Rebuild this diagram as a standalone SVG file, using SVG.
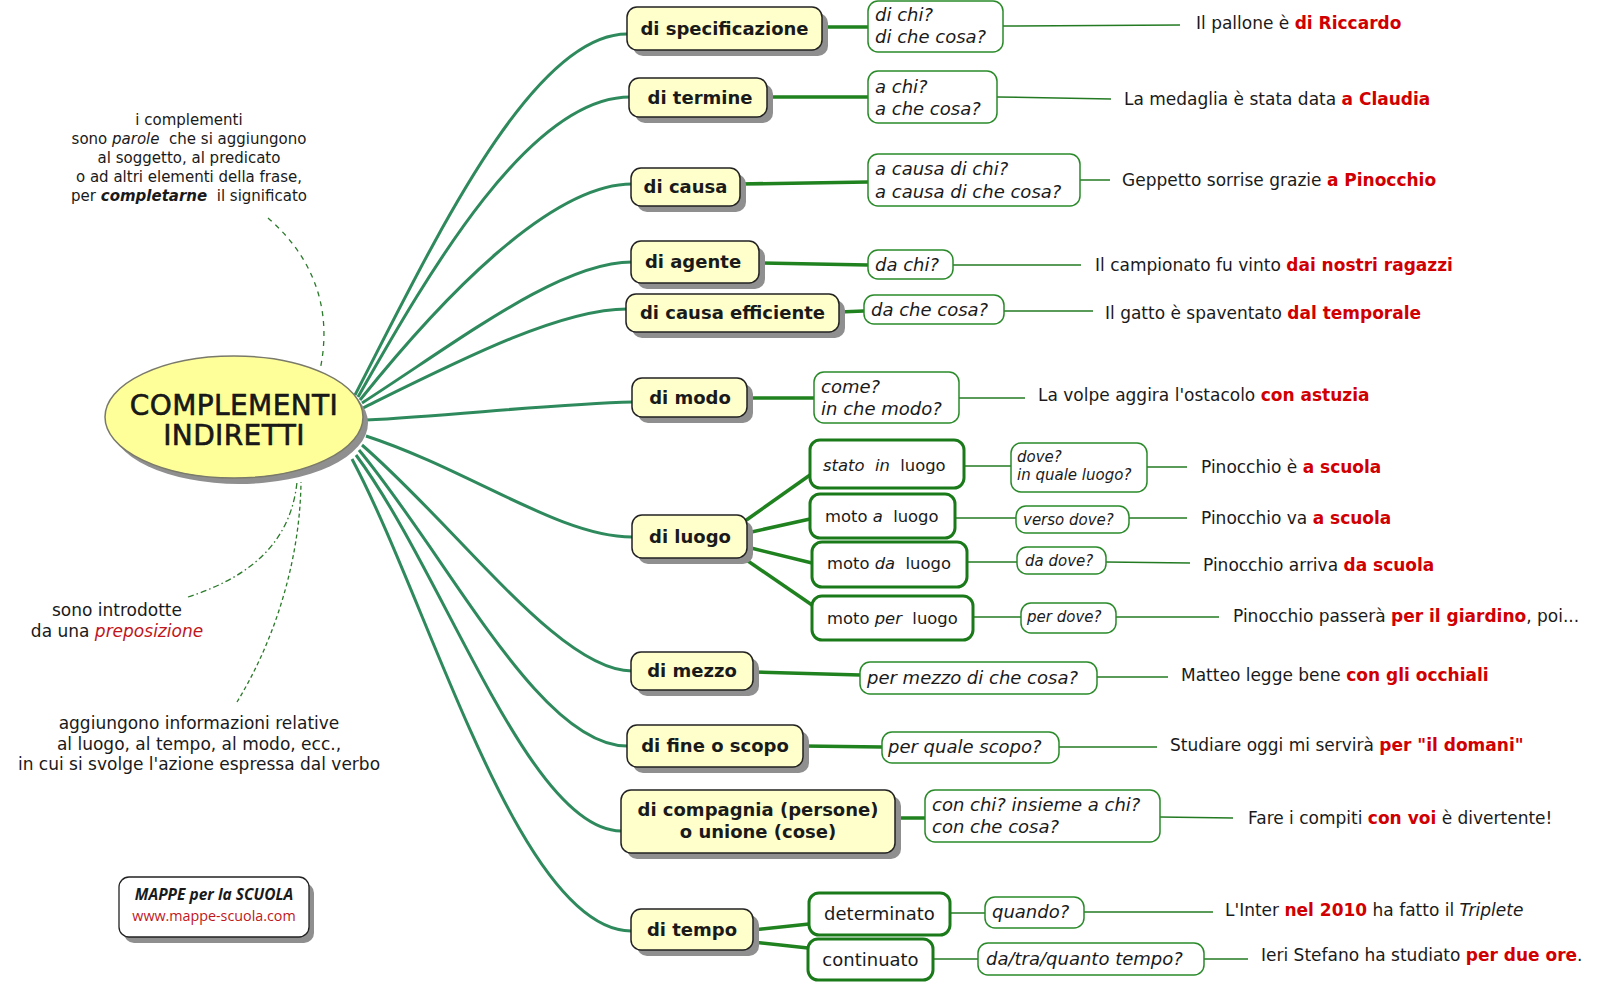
<svg xmlns="http://www.w3.org/2000/svg" width="1600" height="984" viewBox="0 0 1600 984">
<style>
text{font-family:"DejaVu Sans",Verdana,sans-serif;fill:#1a1a1a}
.main{fill:none;stroke:#2e8a5c;stroke-width:3}
.br{fill:none;stroke:#1f821f;stroke-width:3.5}
.thin{fill:none;stroke:#237a23;stroke-width:1.5}
.dash{fill:none;stroke:#2a7a2a;stroke-width:1.3}
.sh{fill:#8f8f8f}
.nd{fill:#ffffcc;stroke:#222;stroke-width:1.5}
.q{fill:#fff;stroke:#2a8a2a;stroke-width:1.5}
.sub{fill:#fff;stroke:#1a7a1a;stroke-width:3}
.nt{font-size:18px;font-weight:bold;text-anchor:middle}
.qt{font-size:18px;font-style:italic}
.qs{font-size:15px;font-style:italic}
.st{font-size:16.4px;white-space:pre}
.ex{font-size:17px;white-space:pre}
.r{fill:#d00000;font-weight:bold}
.i{font-style:italic}
.an{font-size:15px;text-anchor:middle;white-space:pre}
.an2{font-size:17px;text-anchor:middle;white-space:pre}
</style>
<g id="connectors">
<path class="main" d="M355,395 C430,250 530,34 627,34"/>
<path class="main" d="M358,397 C430,270 530,97 630,97"/>
<path class="main" d="M360,400 C440,300 550,184 632,184"/>
<path class="main" d="M362,403 C460,340 560,262 632,262"/>
<path class="main" d="M363,408 C460,360 560,309 627,309"/>
<path class="main" d="M366,420 C450,416 550,404 633,402"/>
<path class="main" d="M366,436 C470,470 560,537 632,537"/>
<path class="main" d="M362,445 C460,530 560,671 632,671"/>
<path class="main" d="M359,450 C450,560 540,746 627,746"/>
<path class="main" d="M356,455 C445,575 530,831 621,831"/>
<path class="main" d="M352,459 C430,605 520,931 631,931"/>
<path class="dash" stroke-dasharray="5,5" d="M268,218 C305,250 335,300 320,370"/>
<path class="dash" stroke-dasharray="6,3,1.5,3" d="M188,597 C240,580 290,550 297,482"/>
<path class="dash" stroke-dasharray="4,3" d="M237,702 C275,640 300,560 301,482"/>
<line class="br" x1="822" y1="27" x2="868" y2="27"/>
<line class="br" x1="767" y1="97" x2="868" y2="97"/>
<line class="br" x1="740" y1="184" x2="868" y2="182"/>
<line class="br" x1="759" y1="263" x2="868" y2="265"/>
<line class="br" x1="839" y1="312" x2="864" y2="311"/>
<line class="br" x1="747" y1="398" x2="814" y2="398"/>
<line class="br" x1="753" y1="672" x2="860" y2="675"/>
<line class="br" x1="803" y1="746" x2="882" y2="747"/>
<line class="br" x1="895" y1="818" x2="925" y2="818"/>
<line class="br" x1="745" y1="521" x2="810" y2="475"/>
<line class="br" x1="747" y1="533" x2="810" y2="519"/>
<line class="br" x1="747" y1="547" x2="812" y2="563"/>
<line class="br" x1="745" y1="559" x2="812" y2="605"/>
<line class="br" x1="753" y1="930" x2="809" y2="924"/>
<line class="br" x1="753" y1="942" x2="808" y2="948"/>
<line class="thin" x1="1003" y1="26" x2="1180" y2="25"/>
<line class="thin" x1="997" y1="97" x2="1111" y2="99"/>
<line class="thin" x1="1080" y1="180" x2="1110" y2="180"/>
<line class="thin" x1="953" y1="265" x2="1081" y2="265"/>
<line class="thin" x1="1004" y1="311" x2="1093" y2="311"/>
<line class="thin" x1="959" y1="398" x2="1025" y2="398"/>
<line class="thin" x1="964" y1="466" x2="1011" y2="466"/>
<line class="thin" x1="1147" y1="467" x2="1187" y2="467"/>
<line class="thin" x1="955" y1="518" x2="1016" y2="518"/>
<line class="thin" x1="1129" y1="518" x2="1187" y2="518"/>
<line class="thin" x1="967" y1="562" x2="1017" y2="562"/>
<line class="thin" x1="1106" y1="562" x2="1190" y2="563"/>
<line class="thin" x1="973" y1="617" x2="1021" y2="617"/>
<line class="thin" x1="1116" y1="617" x2="1219" y2="617"/>
<line class="thin" x1="1097" y1="677" x2="1168" y2="677"/>
<line class="thin" x1="1059" y1="747" x2="1157" y2="747"/>
<line class="thin" x1="1160" y1="817" x2="1233" y2="818"/>
<line class="thin" x1="950" y1="913" x2="985" y2="913"/>
<line class="thin" x1="1084" y1="912" x2="1213" y2="912"/>
<line class="thin" x1="933" y1="959" x2="978" y2="959"/>
<line class="thin" x1="1204" y1="959" x2="1248" y2="959"/>
</g>
<g id="center">
<ellipse cx="239" cy="423" rx="129" ry="61" class="sh"/>
<ellipse cx="234" cy="417" rx="129" ry="61" fill="#ffff99" stroke="#7a7a6a" stroke-width="1.5"/>
<text x="234" y="415" font-size="28" text-anchor="middle" stroke="#111" stroke-width="0.6" letter-spacing="0.4">COMPLEMENTI</text>
<text x="234" y="445" font-size="28" text-anchor="middle" stroke="#111" stroke-width="0.6" letter-spacing="0.4">INDIRETTI</text>
</g>
<g id="note-def">
<text class="an" x="189" y="125">i complementi</text>
<text class="an" x="189" y="144">sono <tspan class="i">parole</tspan>  che si aggiungono</text>
<text class="an" x="189" y="163">al soggetto, al predicato</text>
<text class="an" x="189" y="182">o ad altri elementi della frase,</text>
<text class="an" x="189" y="201">per <tspan font-weight="bold" font-style="italic">completarne</tspan>  il significato</text>
</g>
<g id="note-prep">
<text class="an2" x="117" y="616">sono introdotte</text>
<text class="an2" x="117" y="637">da una <tspan class="i" fill="#c0161b">preposizione</tspan></text>
</g>
<g id="note-info">
<text class="an2" x="199" y="729">aggiungono informazioni relative</text>
<text class="an2" x="199" y="749.5">al luogo, al tempo, al modo, ecc.,</text>
<text class="an2" x="199" y="770">in cui si svolge l'azione espressa dal verbo</text>
</g>
<g id="logo">
<rect x="124" y="883" width="190" height="60" rx="10" class="sh"/>
<rect x="119" y="877" width="190" height="60" rx="10" fill="#fff" stroke="#222" stroke-width="1.3"/>
<text x="214" y="900" font-size="15.5" font-weight="bold" font-style="italic" text-anchor="middle" style="font-family:'Open Sans',sans-serif">MAPPE per la SCUOLA</text>
<text x="214" y="921" font-size="14.3" text-anchor="middle" style="font-family:'Open Sans',sans-serif;fill:#c0161b">www.mappe-scuola.com</text>
</g>
<g id="n-specificazione">
<rect x="633" y="13" width="195" height="43" rx="10" class="sh"/>
<rect x="627" y="7" width="195" height="43" rx="10" class="nd"/>
<text class="nt" x="724.5" y="35">di specificazione</text>
<rect x="868" y="1" width="135" height="51" rx="10" class="q"/>
<text class="qt" x="875" y="21">di chi?</text>
<text class="qt" x="875" y="43">di che cosa?</text>
<text class="ex" x="1196" y="29">Il pallone è <tspan class="r">di Riccardo</tspan></text>
</g>
<g id="n-termine">
<rect x="635" y="84" width="138" height="39" rx="10" class="sh"/>
<rect x="629" y="78" width="138" height="39" rx="10" class="nd"/>
<text class="nt" x="700" y="104">di termine</text>
<rect x="868" y="71" width="129" height="52" rx="10" class="q"/>
<text class="qt" x="875" y="93">a chi?</text>
<text class="qt" x="875" y="115">a che cosa?</text>
<text class="ex" x="1124" y="105">La medaglia è stata data <tspan class="r">a Claudia</tspan></text>
</g>
<g id="n-causa">
<rect x="637" y="174" width="109" height="38" rx="10" class="sh"/>
<rect x="631" y="168" width="109" height="38" rx="10" class="nd"/>
<text class="nt" x="685.5" y="193">di causa</text>
<rect x="868" y="154" width="212" height="52" rx="10" class="q"/>
<text class="qt" x="875" y="175">a causa di chi?</text>
<text class="qt" x="875" y="198">a causa di che cosa?</text>
<text class="ex" x="1122" y="186">Geppetto sorrise grazie <tspan class="r">a Pinocchio</tspan></text>
</g>
<g id="n-agente">
<rect x="637" y="247" width="128" height="42" rx="10" class="sh"/>
<rect x="631" y="241" width="128" height="42" rx="10" class="nd"/>
<text class="nt" x="693" y="268">di agente</text>
<rect x="868" y="250" width="85" height="29" rx="10" class="q"/>
<text class="qt" x="875" y="271">da chi?</text>
<text class="ex" x="1095" y="271">Il campionato fu vinto <tspan class="r">dai nostri ragazzi</tspan></text>
</g>
<g id="n-causa-efficiente">
<rect x="632" y="300" width="213" height="38" rx="10" class="sh"/>
<rect x="626" y="294" width="213" height="38" rx="10" class="nd"/>
<text class="nt" x="732.5" y="319">di causa efficiente</text>
<rect x="864" y="295" width="140" height="29" rx="10" class="q"/>
<text class="qt" x="871" y="316">da che cosa?</text>
<text class="ex" x="1105" y="319">Il gatto è spaventato <tspan class="r">dal temporale</tspan></text>
</g>
<g id="n-modo">
<rect x="638" y="384" width="115" height="39" rx="10" class="sh"/>
<rect x="632" y="378" width="115" height="39" rx="10" class="nd"/>
<text class="nt" x="690" y="404">di modo</text>
<rect x="814" y="372" width="145" height="51" rx="10" class="q"/>
<text class="qt" x="821" y="393">come?</text>
<text class="qt" x="821" y="415">in che modo?</text>
<text class="ex" x="1038" y="401">La volpe aggira l'ostacolo <tspan class="r">con astuzia</tspan></text>
</g>
<g id="n-luogo">
<rect x="638" y="521" width="115" height="43" rx="10" class="sh"/>
<rect x="632" y="515" width="115" height="43" rx="10" class="nd"/>
<text class="nt" x="690" y="543">di luogo</text>
</g>
<g id="n-stato-in-luogo">
<rect x="810" y="440" width="154" height="48" rx="10" class="sub"/>
<text class="st" x="823" y="471"><tspan class="i">stato  in</tspan>  luogo</text>
<rect x="1011" y="443" width="136" height="49" rx="10" class="q"/>
<text class="qs" x="1017" y="462">dove?</text>
<text class="qs" x="1017" y="480">in quale luogo?</text>
<text class="ex" x="1201" y="473">Pinocchio è <tspan class="r">a scuola</tspan></text>
</g>
<g id="n-moto-a-luogo">
<rect x="810" y="494" width="145" height="44" rx="10" class="sub"/>
<text class="st" x="825" y="522">moto <tspan class="i">a</tspan>  luogo</text>
<rect x="1016" y="506" width="113" height="27" rx="10" class="q"/>
<text class="qs" x="1023" y="525">verso dove?</text>
<text class="ex" x="1201" y="524">Pinocchio va <tspan class="r">a scuola</tspan></text>
</g>
<g id="n-moto-da-luogo">
<rect x="812" y="542" width="155" height="45" rx="10" class="sub"/>
<text class="st" x="827" y="569">moto <tspan class="i">da</tspan>  luogo</text>
<rect x="1017" y="547" width="89" height="27" rx="10" class="q"/>
<text class="qs" x="1025" y="566">da dove?</text>
<text class="ex" x="1203" y="571">Pinocchio arriva <tspan class="r">da scuola</tspan></text>
</g>
<g id="n-moto-per-luogo">
<rect x="812" y="596" width="161" height="44" rx="10" class="sub"/>
<text class="st" x="827" y="624">moto <tspan class="i">per</tspan>  luogo</text>
<rect x="1021" y="603" width="95" height="30" rx="10" class="q"/>
<text class="qs" x="1027" y="622">per dove?</text>
<text class="ex" x="1233" y="622">Pinocchio passerà <tspan class="r">per il giardino</tspan>, poi...</text>
</g>
<g id="n-mezzo">
<rect x="637" y="658" width="122" height="38" rx="10" class="sh"/>
<rect x="631" y="652" width="122" height="38" rx="10" class="nd"/>
<text class="nt" x="692" y="677">di mezzo</text>
<rect x="860" y="662" width="237" height="32" rx="10" class="q"/>
<text class="qt" x="867" y="684">per mezzo di che cosa?</text>
<text class="ex" x="1181" y="681">Matteo legge bene <tspan class="r">con gli occhiali</tspan></text>
</g>
<g id="n-fine">
<rect x="633" y="731" width="176" height="42" rx="10" class="sh"/>
<rect x="627" y="725" width="176" height="42" rx="10" class="nd"/>
<text class="nt" x="715" y="752">di fine o scopo</text>
<rect x="882" y="732" width="177" height="31" rx="10" class="q"/>
<text class="qt" x="888" y="753">per quale scopo?</text>
<text class="ex" x="1170" y="751">Studiare oggi mi servirà <tspan class="r">per "il domani"</tspan></text>
</g>
<g id="n-compagnia">
<rect x="627" y="796" width="274" height="63" rx="10" class="sh"/>
<rect x="621" y="790" width="274" height="63" rx="10" class="nd"/>
<text class="nt" x="758" y="816">di compagnia (persone)</text>
<text class="nt" x="758" y="838">o unione (cose)</text>
<rect x="925" y="790" width="235" height="52" rx="10" class="q"/>
<text class="qt" x="932" y="811">con chi? insieme a chi?</text>
<text class="qt" x="932" y="833">con che cosa?</text>
<text class="ex" x="1248" y="824">Fare i compiti <tspan class="r">con voi</tspan> è divertente!</text>
</g>
<g id="n-tempo">
<rect x="637" y="915" width="122" height="41" rx="10" class="sh"/>
<rect x="631" y="909" width="122" height="41" rx="10" class="nd"/>
<text class="nt" x="692" y="936">di tempo</text>
</g>
<g id="n-determinato">
<rect x="809" y="893" width="141" height="42" rx="10" class="sub"/>
<text x="879.5" y="920" font-size="18" text-anchor="middle">determinato</text>
<rect x="985" y="897" width="99" height="31" rx="10" class="q"/>
<text class="qt" x="992" y="918">quando?</text>
<text class="ex" x="1225" y="916">L'Inter <tspan class="r">nel 2010</tspan> ha fatto il <tspan class="i">Triplete</tspan></text>
</g>
<g id="n-continuato">
<rect x="808" y="939" width="125" height="41" rx="10" class="sub"/>
<text x="870.5" y="966" font-size="18" text-anchor="middle">continuato</text>
<rect x="978" y="943" width="226" height="32" rx="10" class="q"/>
<text class="qt" x="986" y="965">da/tra/quanto tempo?</text>
<text class="ex" x="1261" y="961">Ieri Stefano ha studiato <tspan class="r">per due ore</tspan>.</text>
</g>
</svg>
